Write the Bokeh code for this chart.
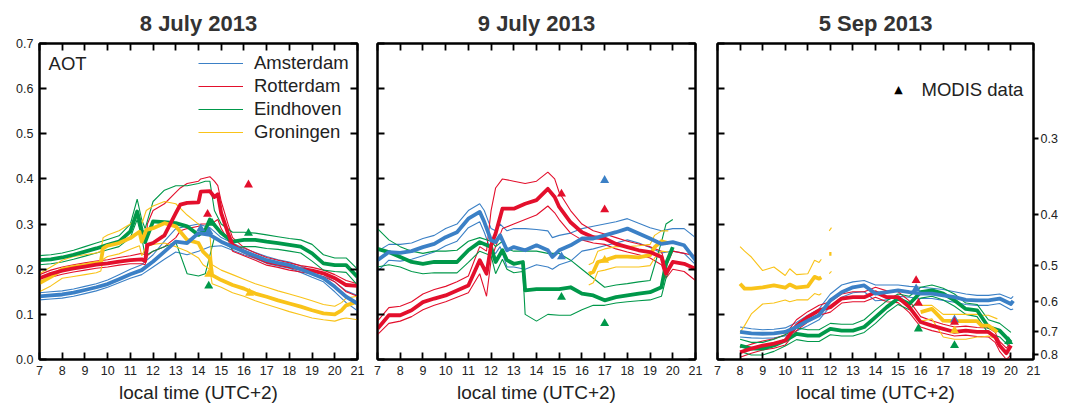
import math
from bokeh.plotting import figure
from bokeh.models import (Range1d, LinearAxis, FixedTicker, PrintfTickFormatter,
                          CustomJSTickFormatter, Legend, LegendItem, Label)
from bokeh.layouts import row
from bokeh.embed import file_html
from bokeh.resources import INLINE

NaN = float("nan")
FONT = "Liberation Sans"

HOURS = list(range(7, 22))
AOT_TICKS = [0.0, 0.1, 0.2, 0.3, 0.4, 0.5, 0.6, 0.7]
DOLP_LABELS = ["0.3", "0.4", "0.5", "0.6", "0.7", "0.8"]
DOLP_AOT_POS = [0.490, 0.321, 0.208, 0.129, 0.062, 0.011]

CITIES = ["Amsterdam", "Rotterdam", "Eindhoven", "Groningen"]
COLORS = {"Amsterdam": "#3b80c6", "Rotterdam": "#e30f2c",
          "Eindhoven": "#00984a", "Groningen": "#f9c319"}

# ---------------- 8 July 2013 ----------------
JUL8_AMS_T = [7, 7.5, 8, 8.5, 9, 9.5, 10, 10.5, 11, 11.5, 12, 12.5, 13, 13.5, 14, 14.5, 15, 15.5, 16, 16.5, 17, 17.5, 18, 18.5, 19, 19.5, 20, 20.5, 21]
JUL8_AMS_C = [.140, .142, .144, .148, .154, .160, .167, .178, .189, .198, .217, .239, .261, .258, .280, .276, .261, .250, .239, .230, .220, .214, .209, .200, .190, .180, .161, .139, .124]
JUL8_AMS_HI = [.148, .150, .152, .156, .162, .168, .176, .188, .200, .210, .232, .262, .290, .295, .300, .292, .270, .258, .246, .237, .228, .221, .216, .207, .197, .188, .172, .152, .142]
JUL8_AMS_LO = [.132, .134, .136, .140, .146, .152, .160, .170, .180, .188, .205, .222, .238, .232, .240, .250, .252, .242, .232, .224, .213, .207, .202, .193, .182, .172, .150, .126, .108]

JUL8_ROT_T = [7, 7.5, 8, 8.5, 9, 9.5, 10, 10.5, 11, 11.5, 11.65, 11.75, 12, 12.5, 13, 13.2, 13.5, 14, 14.1, 14.5, 14.7, 14.85, 15, 15.3, 15.5, 16, 16.5, 17, 17.5, 18, 18.5, 19, 19.5, 20, 20.5, 21]
JUL8_ROT_C = [.180, .190, .197, .202, .206, .210, .213, .217, .220, .222, .218, .254, .258, .275, .324, .343, .347, .348, .372, .373, .360, .366, .324, .280, .254, .239, .228, .217, .212, .206, .201, .197, .191, .180, .165, .163]
JUL8_ROT_HI = [.188, .198, .205, .210, .214, .218, .221, .226, .230, .235, .232, .300, .330, .345, .370, .380, .390, .395, .400, .405, .395, .385, .350, .300, .270, .248, .236, .226, .220, .214, .208, .204, .198, .188, .175, .168]
JUL8_ROT_LO = [.172, .182, .189, .194, .198, .202, .205, .209, .212, .212, .210, .230, .240, .250, .270, .285, .290, .295, .300, .300, .305, .310, .290, .265, .240, .230, .220, .209, .204, .198, .194, .190, .184, .172, .150, .140]

JUL8_EIN_T = [7, 7.5, 8, 8.5, 9, 9.5, 10, 10.5, 11, 11.3, 11.5, 11.65, 12, 12.5, 13, 13.5, 14, 14.3, 14.5, 14.7, 15, 15.5, 16, 16.5, 17, 17.5, 18, 18.5, 19, 19.5, 20, 20.5, 21]
JUL8_EIN_C = [.220, .222, .226, .232, .239, .246, .254, .261, .284, .328, .287, .260, .306, .304, .302, .295, .276, .287, .310, .298, .280, .261, .265, .265, .261, .258, .254, .250, .235, .213, .209, .209, .183]
JUL8_EIN_HI = [.230, .232, .236, .242, .250, .258, .266, .274, .300, .355, .310, .290, .350, .375, .385, .385, .390, .395, .395, .330, .300, .282, .282, .280, .276, .272, .268, .265, .255, .232, .225, .225, .200]
JUL8_EIN_LO = [.210, .212, .216, .222, .229, .236, .243, .250, .270, .310, .270, .230, .240, .250, .260, .190, .185, .190, .230, .270, .262, .245, .250, .250, .246, .244, .240, .236, .218, .198, .195, .193, .165]

JUL8_GRO_T = [7, 7.5, 8, 8.5, 9, 9.5, 9.7, 9.8, 10, 10.5, 11, 11.4, 11.5, 11.7, 12, 12.5, 13, 13.5, 14, 14.2, 14.5, 14.6, 15, 15.5, 16, 16.5, 17, 17.5, 18, 18.5, 19, 19.5, 20, 20.3, 20.5, 21]
JUL8_GRO_C = [.169, .183, .200, .205, .209, .214, .217, .246, .252, .258, .269, .283, .261, .287, .291, .302, .295, .265, .258, .239, .224, .187, .176, .165, .157, .146, .139, .131, .124, .117, .109, .102, .100, .109, .120, .128]
JUL8_GRO_HI = [.190, .205, .220, .228, .232, .236, .240, .270, .276, .285, .300, .320, .300, .330, .340, .350, .345, .320, .300, .290, .280, .210, .198, .188, .178, .168, .160, .152, .145, .138, .130, .122, .118, .126, .136, .140]
JUL8_GRO_LO = [.150, .163, .180, .184, .188, .192, .196, .222, .228, .234, .244, .252, .230, .250, .255, .258, .250, .240, .225, .210, .200, .168, .160, .148, .140, .130, .122, .114, .106, .099, .092, .088, .085, .090, .092, .088]

JUL8_MODIS_T = [16.2, 14.4, 14.1, 14.45, 14.6, 16.2, 14.45, 14.45, 16.25]
JUL8_MODIS_V = [.387, .322, .290, .284, .302, .280, .189, .163, .147]
JUL8_MODIS_CITY = ["Rotterdam", "Rotterdam", "Amsterdam", "Amsterdam", "Eindhoven", "Eindhoven", "Groningen", "Eindhoven", "Groningen"]

# ---------------- 9 July 2013 ----------------
JUL9_AMS_T = [7, 7.5, 8, 8.5, 9, 9.5, 10, 10.5, 11, 11.5, 11.7, 12, 12.2, 12.4, 12.7, 13, 13.5, 14, 14.5, 14.7, 15, 15.5, 16, 16.5, 17, 17.5, 18, 18.5, 19, 19.5, 20, 20.5, 21]
JUL9_AMS_C = [.220, .238, .236, .240, .249, .256, .271, .282, .312, .327, .305, .264, .260, .275, .242, .249, .242, .253, .242, .227, .242, .253, .268, .268, .275, .282, .290, .279, .268, .256, .260, .253, .220]
JUL9_AMS_HI = [.240, .255, .255, .258, .268, .275, .290, .300, .330, .345, .330, .290, .285, .300, .285, .290, .290, .288, .285, .270, .275, .280, .290, .295, .300, .305, .312, .302, .292, .285, .290, .290, .270]
JUL9_AMS_LO = [.195, .220, .218, .222, .230, .238, .252, .262, .292, .305, .282, .240, .235, .250, .205, .205, .200, .210, .205, .200, .210, .218, .240, .245, .252, .258, .265, .258, .248, .236, .240, .235, .210]

JUL9_ROT_T = [7, 7.5, 8, 8.5, 9, 9.5, 10, 10.5, 11, 11.5, 11.8, 12, 12.2, 12.5, 13, 13.5, 14, 14.5, 14.8, 15, 15.5, 16, 16.5, 17, 17.5, 18, 18.5, 19, 19.5, 19.7, 20, 20.5, 21]
JUL9_ROT_C = [.068, .098, .098, .109, .127, .135, .142, .153, .164, .220, .190, .253, .279, .334, .334, .345, .353, .378, .360, .338, .304, .282, .271, .268, .256, .249, .242, .238, .227, .190, .216, .212, .201]
JUL9_ROT_HI = [.085, .115, .118, .128, .145, .155, .162, .172, .185, .250, .240, .330, .380, .400, .395, .390, .395, .415, .400, .370, .330, .300, .285, .278, .270, .262, .256, .250, .240, .205, .240, .235, .230]
JUL9_ROT_LO = [.055, .080, .085, .095, .110, .120, .128, .138, .148, .190, .140, .220, .250, .290, .300, .310, .320, .340, .325, .310, .280, .265, .258, .255, .245, .238, .232, .225, .210, .180, .200, .195, .175]

JUL9_EIN_T = [7, 7.5, 8, 8.5, 9, 9.5, 10, 10.5, 11, 11.5, 12, 12.2, 12.5, 12.7, 13, 13.4, 13.5, 14, 14.5, 15, 15.5, 16, 16.5, 17, 17.5, 18, 18.5, 19, 19.5, 19.7, 20]
JUL9_EIN_C = [.245, .238, .227, .216, .212, .216, .216, .216, .242, .260, .249, .216, .242, .220, .212, .216, .153, .156, .156, .156, .160, .146, .142, .131, .138, .142, .146, .149, .160, .212, .249]
JUL9_EIN_HI = [.290, .265, .250, .240, .235, .240, .240, .242, .262, .270, .262, .250, .262, .245, .240, .240, .240, .240, .235, .235, .220, .200, .180, .160, .165, .168, .172, .175, .260, .300, .310]
JUL9_EIN_LO = [.205, .210, .205, .195, .190, .192, .192, .192, .215, .240, .230, .190, .222, .200, .192, .195, .100, .085, .100, .098, .098, .110, .120, .120, .125, .128, .130, .132, .140, .180, .220]

JUL9_GRO_T = [16.3, 16.5, 16.7, 17, 17.5, 18, 18.5, 19, 19.2, 19.5, 19.8]
JUL9_GRO_C = [.190, .194, .216, .220, .228, .228, .226, .231, .249, .262, .258]
JUL9_GRO_HI = [.210, .215, .240, .245, .250, .250, .252, .255, .275, .285, .285]
JUL9_GRO_LO = [.165, .170, .195, .198, .205, .205, .205, .208, .225, .240, .238]

JUL9_MODIS_T = [17.0, 15.1, 17.0, 15.1, 17.0, 15.1, 17.0]
JUL9_MODIS_V = [.397, .367, .332, .228, .220, .138, .080]
JUL9_MODIS_CITY = ["Amsterdam", "Rotterdam", "Rotterdam", "Amsterdam", "Groningen", "Eindhoven", "Eindhoven"]

# ---------------- 5 Sep 2013 ----------------
SEP5_AMS_T = [8, 8.5, 9, 9.5, 10, 10.5, 11, 11.5, 12, 12.5, 13, 13.5, 14, 14.5, 15, 15.5, 16, 16.5, 17, 17.5, 18, 18.5, 19, 19.5, 20, 20.1]
SEP5_AMS_C = [.061, .058, .057, .058, .061, .072, .086, .098, .131, .149, .160, .164, .146, .149, .153, .149, .146, .146, .142, .138, .132, .131, .131, .135, .123, .130]
SEP5_AMS_HI = [.072, .068, .066, .067, .070, .082, .098, .112, .145, .165, .172, .175, .165, .165, .165, .162, .160, .158, .155, .150, .145, .142, .142, .145, .135, .140]
SEP5_AMS_LO = [.050, .048, .047, .048, .052, .063, .075, .088, .118, .138, .148, .150, .130, .132, .140, .138, .135, .135, .131, .127, .122, .120, .120, .124, .110, .112]

SEP5_ROT_T = [8, 8.5, 9, 9.5, 10, 10.5, 11, 11.5, 12, 12.5, 13, 13.5, 14, 14.5, 15, 15.5, 16, 16.5, 17, 17.5, 18, 18.5, 19, 19.3, 19.5, 19.8, 20]
SEP5_ROT_C = [.016, .024, .031, .035, .042, .075, .094, .109, .116, .135, .138, .138, .149, .138, .138, .116, .083, .075, .068, .061, .064, .061, .061, .050, .031, .014, .031]
SEP5_ROT_HI = [.026, .034, .041, .046, .055, .088, .106, .120, .128, .145, .150, .150, .160, .152, .150, .130, .095, .086, .078, .072, .074, .071, .070, .060, .040, .025, .040]
SEP5_ROT_LO = [.005, .014, .021, .025, .032, .064, .083, .098, .105, .125, .128, .128, .138, .128, .126, .104, .072, .064, .058, .052, .054, .051, .050, .038, .018, .000, .010]

SEP5_EIN_T = [8, 8.5, 9, 9.5, 10, 10.5, 11, 11.5, 12, 12.5, 13, 13.5, 14, 14.5, 15, 15.5, 16, 16.5, 17, 17.5, 18, 18.5, 19, 19.5, 20]
SEP5_EIN_C = [.031, .024, .024, .031, .042, .057, .053, .053, .068, .064, .064, .072, .094, .116, .135, .123, .149, .153, .146, .131, .112, .109, .072, .064, .038]
SEP5_EIN_HI = [.045, .038, .038, .045, .055, .070, .066, .066, .080, .078, .078, .088, .110, .130, .145, .140, .160, .165, .158, .145, .125, .122, .088, .080, .060]
SEP5_EIN_LO = [.018, .010, .010, .018, .030, .044, .040, .040, .055, .052, .052, .060, .080, .104, .122, .110, .136, .140, .132, .118, .100, .095, .058, .050, .025]

SEP5_GRO_T = [8, 8.2, 8.5, 9, 9.5, 10, 10.2, 10.5, 11, 11.3, 11.5, 11.6, NaN, 11.95, 12.05, NaN, 16, 16.5, 17, 17.5, 18, 18.5, 18.7, 19, 19.4]
SEP5_GRO_C = [.168, .157, .157, .160, .164, .159, .166, .159, .162, .183, .179, .182, NaN, .234, .234, NaN, .105, .112, .086, .085, .085, .085, .075, .075, .061]
SEP5_GRO_HI = [.250, .240, .227, .197, .205, .186, .201, .188, .190, .220, .215, .222, NaN, .285, .292, NaN, .120, .120, .100, .100, .100, .100, .098, .098, .090]
SEP5_GRO_LO = [.060, .075, .101, .123, .125, .132, .128, .132, .132, .146, .143, .146, NaN, .190, .195, NaN, .085, .090, .050, .045, .045, .050, .050, .052, .045]

SEP5_MODIS_T = [15.8, 15.8, 15.9, 15.9, 17.5, 17.5, 17.5, 17.5, 19.9]
SEP5_MODIS_V = [.175, .157, .125, .068, .088, .083, .064, .031, .040]
SEP5_MODIS_CITY = ["Rotterdam", "Amsterdam", "Rotterdam", "Eindhoven", "Amsterdam", "Rotterdam", "Groningen", "Eindhoven", "Eindhoven"]

EMPTY = CustomJSTickFormatter(code="return ''")
TXT = "#222222"


def style_axis(ax, ticks, labels=True, tick_in=7, tick_out=0):
    ax.ticker = FixedTicker(ticks=ticks)
    ax.major_tick_in = tick_in
    ax.major_tick_out = tick_out
    ax.minor_tick_line_color = None
    ax.axis_line_color = "black"
    ax.axis_line_width = 2
    ax.major_tick_line_color = "black"
    ax.major_tick_line_width = 1.8
    ax.major_label_text_font = FONT
    ax.major_label_text_font_size = "12.5px"
    ax.major_label_text_color = TXT
    if not labels:
        ax.formatter = EMPTY


def panel(title, series, modis, width, mb_left, mb_right, left_labels, dolp):
    p = figure(width=width, height=405, x_range=Range1d(7, 21), y_range=Range1d(0, 0.7),
               output_backend="svg", toolbar_location=None,
               min_border_left=mb_left, min_border_right=mb_right,
               min_border_top=43, min_border_bottom=46)
    p.grid.visible = False
    p.outline_line_color = "black"
    p.outline_line_width = 2
    p.background_fill_color = "white"
    p.border_fill_color = "white"

    p.title.text = title
    p.title.align = "center"
    p.title.text_font = FONT
    p.title.text_font_size = "22px"
    p.title.text_font_style = "bold"
    p.title.text_color = "#333333"
    p.title.standoff = 16

    xb = p.xaxis[0]
    style_axis(xb, HOURS)
    xb.major_label_standoff = 6
    xb.axis_label = "local time (UTC+2)"
    xb.axis_label_text_font = FONT
    xb.axis_label_text_font_size = "19px"
    xb.axis_label_text_font_style = "normal"
    xb.axis_label_text_color = TXT
    xb.axis_label_standoff = 4

    yl = p.yaxis[0]
    style_axis(yl, AOT_TICKS, labels=left_labels)
    if left_labels:
        yl.formatter = PrintfTickFormatter(format="%.1f")
        yl.major_label_standoff = 6

    top = LinearAxis()
    style_axis(top, HOURS, labels=False)
    top.major_label_standoff = 0
    p.add_layout(top, "above")

    right = LinearAxis()
    if dolp:
        style_axis(right, DOLP_AOT_POS, tick_in=0, tick_out=5)
        right.major_label_overrides = {pos: lab for pos, lab in zip(DOLP_AOT_POS, DOLP_LABELS)}
        right.major_label_standoff = 2
    else:
        style_axis(right, AOT_TICKS, labels=False)
        right.major_label_standoff = 0
    p.add_layout(right, "right")

    thin = {}
    for city in CITIES:
        t, c, hi, lo = series[city]
        thin[city] = p.line(t, hi, line_color=COLORS[city], line_width=1.1)
        p.line(t, lo, line_color=COLORS[city], line_width=1.1)
    for city in ["Eindhoven", "Groningen", "Rotterdam", "Amsterdam"]:
        t, c, hi, lo = series[city]
        p.line(t, c, line_color=COLORS[city], line_width=3.8, line_join="round")

    mt, mv, mc = modis
    p.scatter(mt, mv, marker="triangle", size=9, line_color=None,
              fill_color=[COLORS[c] for c in mc])
    return p, thin


p1, thin1 = panel("8 July 2013",
                  {"Amsterdam": (JUL8_AMS_T, JUL8_AMS_C, JUL8_AMS_HI, JUL8_AMS_LO),
                   "Rotterdam": (JUL8_ROT_T, JUL8_ROT_C, JUL8_ROT_HI, JUL8_ROT_LO),
                   "Eindhoven": (JUL8_EIN_T, JUL8_EIN_C, JUL8_EIN_HI, JUL8_EIN_LO),
                   "Groningen": (JUL8_GRO_T, JUL8_GRO_C, JUL8_GRO_HI, JUL8_GRO_LO)},
                  (JUL8_MODIS_T, JUL8_MODIS_V, JUL8_MODIS_CITY),
                  367, 39, 10, True, False)
p2, _ = panel("9 July 2013",
              {"Amsterdam": (JUL9_AMS_T, JUL9_AMS_C, JUL9_AMS_HI, JUL9_AMS_LO),
               "Rotterdam": (JUL9_ROT_T, JUL9_ROT_C, JUL9_ROT_HI, JUL9_ROT_LO),
               "Eindhoven": (JUL9_EIN_T, JUL9_EIN_C, JUL9_EIN_HI, JUL9_EIN_LO),
               "Groningen": (JUL9_GRO_T, JUL9_GRO_C, JUL9_GRO_HI, JUL9_GRO_LO)},
              (JUL9_MODIS_T, JUL9_MODIS_V, JUL9_MODIS_CITY),
              338, 10, 10, False, False)
p3, _ = panel("5 Sep 2013",
              {"Amsterdam": (SEP5_AMS_T, SEP5_AMS_C, SEP5_AMS_HI, SEP5_AMS_LO),
               "Rotterdam": (SEP5_ROT_T, SEP5_ROT_C, SEP5_ROT_HI, SEP5_ROT_LO),
               "Eindhoven": (SEP5_EIN_T, SEP5_EIN_C, SEP5_EIN_HI, SEP5_EIN_LO),
               "Groningen": (SEP5_GRO_T, SEP5_GRO_C, SEP5_GRO_HI, SEP5_GRO_LO)},
              (SEP5_MODIS_T, SEP5_MODIS_V, SEP5_MODIS_CITY),
              381, 12, 53, False, True)

# city legend (panel 1)
leg = Legend(items=[LegendItem(label=c, renderers=[thin1[c]]) for c in CITIES],
             location=(159, 216), border_line_color=None, background_fill_alpha=0,
             label_text_font=FONT, label_text_font_size="18.5px", label_text_color=TXT,
             glyph_width=45, glyph_height=22, label_height=22, spacing=1,
             padding=0, margin=0, label_standoff=11)
p1.add_layout(leg)
p1.add_layout(Label(x=7.40, y=0.656, text="AOT", text_font=FONT, text_font_size="18.5px",
                    text_baseline="middle", text_color=TXT))

# MODIS key (panel 3)
p3.add_layout(Label(x=15.02, y=0.599, text="▲", text_font="DejaVu Sans", text_font_size="11px",
                    text_align="center", text_baseline="middle", text_color="black"))
p3.add_layout(Label(x=16.04, y=0.599, text="MODIS data", text_font=FONT, text_font_size="18.5px",
                    text_baseline="middle", text_color=TXT))
p3.add_layout(Label(x=21.75, y=0.605, text="DoLP(90°)", angle=math.pi / 2,
                    text_font=FONT, text_font_size="18px", text_align="center",
                    text_baseline="middle", text_color=TXT))

layout = row(p1, p2, p3)
open("out.html", "w").write(file_html(layout, INLINE))
